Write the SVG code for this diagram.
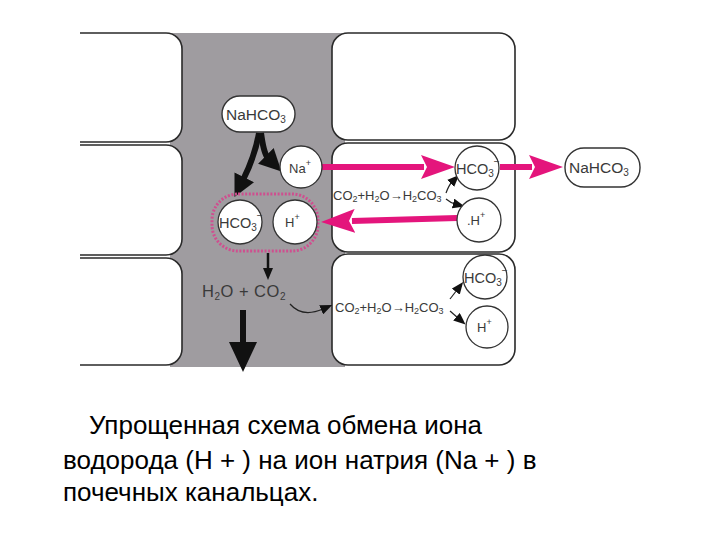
<svg xmlns="http://www.w3.org/2000/svg" width="720" height="540" viewBox="0 0 720 540">
<style>
.cell{fill:#ffffff;stroke:#2a2a2a;stroke-width:1.6}
.circ{fill:#ffffff;stroke:#333333;stroke-width:1.3}
.pill{fill:#ffffff;stroke:#333333;stroke-width:1.4}
.lbl{font-family:"Liberation Sans",Arial,sans-serif;fill:#3a3a3a}
.cap{font-family:"Liberation Sans",Arial,sans-serif;fill:#000000;font-size:26px}
.blk{fill:none;stroke:#111111;stroke-width:6}
.thin{fill:none;stroke:#222222;stroke-width:1.2}
.mag{fill:none;stroke:#e4157c;stroke-width:6}
</style>
<defs>
<clipPath id="area"><rect x="80" y="20" width="570" height="360"/></clipPath>
<marker id="hb" markerUnits="userSpaceOnUse" markerWidth="22" markerHeight="22" viewBox="0 0 22 22" refX="3" refY="11" orient="auto"><path d="M0,0 L22,11 L0,22 z" fill="#111111"/></marker>
<marker id="hbig" markerUnits="userSpaceOnUse" markerWidth="30" markerHeight="28" viewBox="0 0 30 28" refX="3" refY="14" orient="auto"><path d="M0,0 L30,14 L0,28 z" fill="#111111"/></marker>
<marker id="hs" markerUnits="userSpaceOnUse" markerWidth="12" markerHeight="10" viewBox="0 0 12 10" refX="2" refY="5" orient="auto"><path d="M0,0 L12,5 L0,10 z" fill="#111111"/></marker>
<marker id="hm" markerUnits="userSpaceOnUse" markerWidth="34" markerHeight="24" viewBox="0 0 34 24" refX="3" refY="12" orient="auto"><path d="M0,0 L34,12 L0,24 L6,12 z" fill="#e4157c"/></marker>
</defs>
<rect width="720" height="540" fill="#ffffff"/>
<g clip-path="url(#area)">
<rect x="170" y="33" width="175" height="334" fill="#9f9ca0"/>
<g id="cells">
<rect class="cell" x="40" y="33" width="142" height="109" rx="16"/>
<rect class="cell" x="40" y="145" width="142" height="110" rx="16"/>
<rect class="cell" x="40" y="258" width="142" height="107" rx="16"/>
<rect class="cell" x="332" y="33" width="183" height="107" rx="16"/>
<rect class="cell" x="332" y="143" width="183" height="109" rx="16"/>
<rect class="cell" x="332" y="254" width="183" height="111" rx="16"/>
</g>
</g>
<g id="connectors">
<path class="blk" d="M259,133 C256,150 250,166 243,180" marker-end="url(#hb)"/>
<path class="blk" d="M261,133 C263,148 266,156 268,158" marker-end="url(#hb)"/>
<path class="mag" d="M322,167 L424,167" marker-end="url(#hm)"/>
<path class="mag" d="M500,167 L532,167" marker-end="url(#hm)"/>
<path class="mag" d="M457,218 L352,221" marker-end="url(#hm)"/>
<path class="thin" d="M446,193 Q449,185 452,182" marker-end="url(#hs)"/>
<path class="thin" d="M446,199 Q451,203 455,204" marker-end="url(#hs)"/>
<path class="thin" d="M450,299 L457,290" marker-end="url(#hs)"/>
<path class="thin" d="M450,311 L458,318" marker-end="url(#hs)"/>
<path fill="none" stroke="#111111" stroke-width="2.5" d="M268,253 L268,270" marker-end="url(#hs)"/>
<path class="thin" d="M290,304 Q302,318 323,309" marker-end="url(#hs)"/>
<path class="blk" d="M243,310 L243,345" marker-end="url(#hbig)"/>
</g>
<g id="dotted-box">
<rect x="212" y="194" width="106" height="57" rx="26" fill="none" stroke="#cf4f8f" stroke-width="3" stroke-dasharray="2 1.6"/>
</g>
<g id="nahco3-lumen">
<rect class="pill" x="222" y="96" width="73" height="36" rx="18"/>
<text class="lbl" x="226" y="120" font-size="15.5">NaHCO<tspan font-size="10" dy="3">3</tspan></text>
</g>
<g id="na-lumen">
<circle class="circ" cx="301" cy="167" r="21"/>
<text class="lbl" x="289" y="173" font-size="13">Na<tspan font-size="9" dy="-7">+</tspan></text>
</g>
<g id="hco3-lumen">
<circle class="circ" cx="240" cy="222" r="22"/>
<text class="lbl" x="219" y="228" font-size="14.5">HCO<tspan font-size="10" dy="3">3</tspan><tspan font-size="10" dy="-12">−</tspan></text>
</g>
<g id="h-lumen">
<circle class="circ" cx="295" cy="222" r="22"/>
<text class="lbl" x="285" y="227" font-size="13">H<tspan font-size="9" dy="-7">+</tspan></text>
</g>
<g id="h2o-co2">
<text class="lbl" x="202" y="297" font-size="16.5" letter-spacing="0.5">H<tspan font-size="10" dy="3">2</tspan><tspan dy="-3">O + CO</tspan><tspan font-size="10" dy="3">2</tspan></text>
</g>
<g id="cell2-reaction">
<text class="lbl" x="333" y="200" font-size="13">CO<tspan font-size="9" dy="2">2</tspan><tspan dy="-2">+H</tspan><tspan font-size="9" dy="2">2</tspan><tspan dy="-2">O→H</tspan><tspan font-size="9" dy="2">2</tspan><tspan dy="-2">CO</tspan><tspan font-size="9" dy="2">3</tspan></text>
</g>
<g id="hco3-cell2">
<circle class="circ" cx="477" cy="168" r="22"/>
<text class="lbl" x="456" y="174" font-size="14.5">HCO<tspan font-size="10" dy="3">3</tspan><tspan font-size="10" dy="-12">−</tspan></text>
</g>
<g id="h-cell2">
<circle class="circ" cx="479" cy="220" r="22"/>
<text class="lbl" x="467" y="225" font-size="13">.H<tspan font-size="9" dy="-7">+</tspan></text>
</g>
<g id="nahco3-out">
<rect class="pill" x="565" y="148" width="75" height="39" rx="19"/>
<text class="lbl" x="569" y="173" font-size="15.5">NaHCO<tspan font-size="10" dy="3">3</tspan></text>
</g>
<g id="cell3-reaction">
<text class="lbl" x="335" y="312" font-size="13">CO<tspan font-size="9" dy="2">2</tspan><tspan dy="-2">+H</tspan><tspan font-size="9" dy="2">2</tspan><tspan dy="-2">O→H</tspan><tspan font-size="9" dy="2">2</tspan><tspan dy="-2">CO</tspan><tspan font-size="9" dy="2">3</tspan></text>
</g>
<g id="hco3-cell3">
<circle class="circ" cx="485" cy="277" r="22"/>
<text class="lbl" x="464" y="283" font-size="14.5">HCO<tspan font-size="10" dy="3">3</tspan><tspan font-size="10" dy="-12">−</tspan></text>
</g>
<g id="h-cell3">
<circle class="circ" cx="487" cy="327" r="21"/>
<text class="lbl" x="477" y="332" font-size="13">H<tspan font-size="9" dy="-7">+</tspan></text>
</g>
<g id="caption">
<text class="cap" x="89" y="434">Упрощенная схема обмена иона</text>
<text class="cap" x="63" y="469">водорода (H + ) на ион натрия (Na + ) в</text>
<text class="cap" x="63" y="501">почечных канальцах.</text>
</g>
</svg>
